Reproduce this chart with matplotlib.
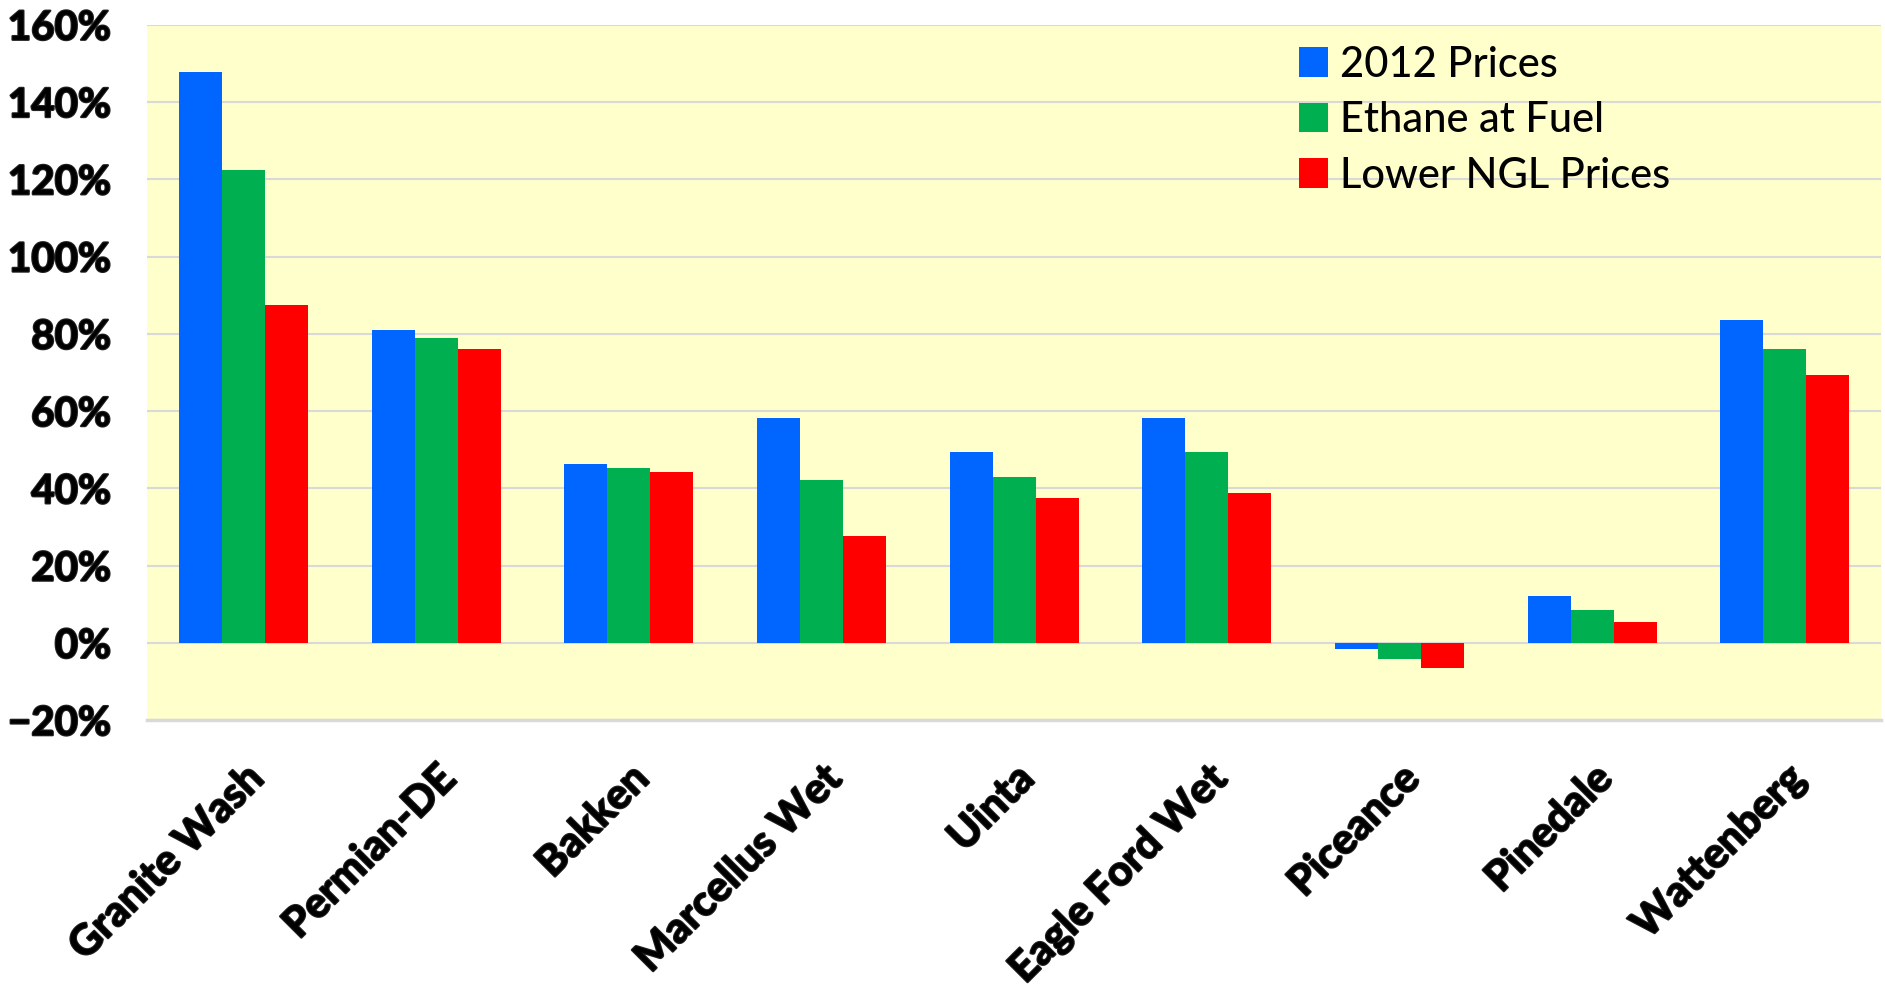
import numpy as np
import matplotlib.pyplot as plt
import matplotlib.patheffects as pe
from matplotlib.ticker import PercentFormatter

# plays and the three pricing cases (return, %)
plays = ['Granite Wash', 'Permian-DE', 'Bakken', 'Marcellus Wet', 'Uinta',
         'Eagle Ford Wet', 'Piceance', 'Pinedale', 'Wattenberg']
prices_2012 = [147.7, 80.9, 46.4, 58.2, 49.5, 58.2, -1.5, 12.2, 83.7]
ethane_fuel = [122.3, 78.8, 45.4, 42.3, 43.0, 49.5, -4.2, 8.5, 76.0]
lower_ngl = [87.4, 76.0, 44.2, 27.7, 37.4, 38.9, -6.6, 5.4, 69.4]

series = [('2012 Prices', prices_2012, '#0066FF'),
          ('Ethane at Fuel', ethane_fuel, '#00B050'),
          ('Lower NGL Prices', lower_ngl, '#FF0000')]

fig = plt.figure(figsize=(18.85, 9.92), dpi=100)
ax = fig.add_axes([0.078, 0.274, 0.92, 0.701])
ax.set_facecolor('#FFFFCC')

x = np.arange(len(plays))
w = 0.223
for i, (name, vals, col) in enumerate(series):
    ax.bar(x + (i - 1) * w, vals, width=w, color=col, label=name, zorder=3)

ax.set_xlim(-0.5, len(plays) - 0.5)
ax.set_ylim(-20, 160)
ax.set_yticks(np.arange(-20, 161, 20))
ax.yaxis.set_major_formatter(PercentFormatter(decimals=0))
ax.grid(axis='y', color='#D9D9D9', linewidth=1.5, zorder=0)

for s in ['top', 'left', 'right']:
    ax.spines[s].set_visible(False)
ax.spines['bottom'].set_color('#D9D9D9')
ax.spines['bottom'].set_linewidth(2.5)
ax.tick_params(length=0)
ax.tick_params(axis='y', pad=26)
ax.tick_params(axis='x', pad=28)

shadow = [pe.withStroke(linewidth=1.6, foreground='#222222')]
ax.set_xticks(x)
ax.set_xticklabels(plays, rotation=45, ha='right', rotation_mode='anchor',
                   fontsize=30, fontweight='bold', family='Lato', path_effects=shadow)
for lab in ax.get_yticklabels():
    lab.set_fontsize(29)
    lab.set_fontweight('bold')
    lab.set_family('Lato')
    lab.set_path_effects(shadow)

ax.legend(loc='upper left', bbox_to_anchor=(0.652, 1.0), frameon=False,
          handlelength=0.7, handleheight=0.7, handletextpad=0.3,
          labelspacing=0.42, borderpad=0,
          prop={'family': 'Lato', 'size': 30, 'weight': 'medium'})

fig.savefig('out.png', dpi=100)
